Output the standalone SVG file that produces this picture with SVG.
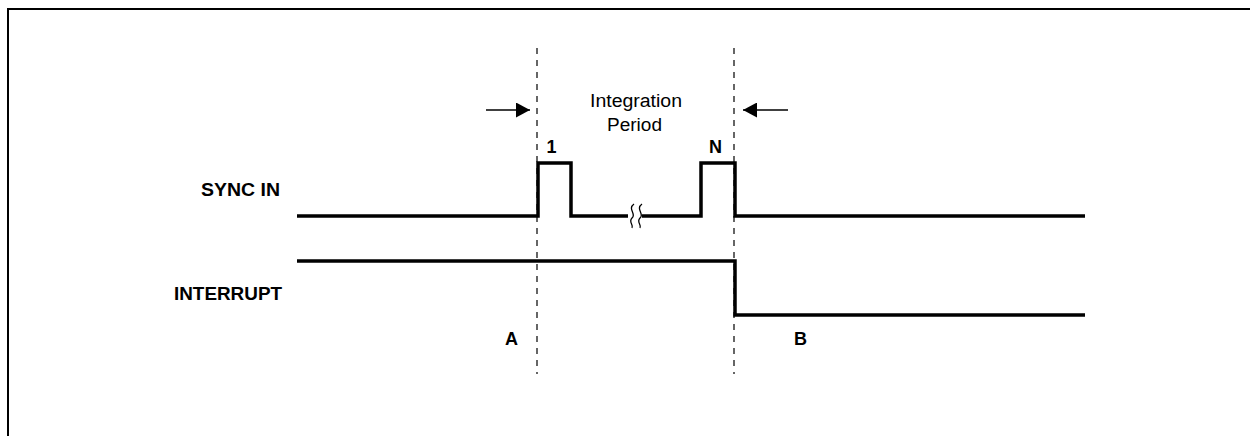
<svg xmlns="http://www.w3.org/2000/svg" width="1250" height="436" viewBox="0 0 1250 436">
<style>
.sig{fill:none;stroke:#000;stroke-width:3.5;stroke-linejoin:miter}
.dash{fill:none;stroke:#000;stroke-width:1.2;stroke-dasharray:6,6}
.lbl{font-family:"Liberation Sans",Arial,sans-serif;font-weight:bold;font-size:18px;fill:#000}
.txt{font-family:"Liberation Sans",Arial,sans-serif;font-size:18px;fill:#000}
.brk{fill:none;stroke:#000;stroke-width:1.3}
.arr{stroke:#000;stroke-width:1.3;fill:none}
</style>
<defs>
<marker id="ah" markerWidth="14" markerHeight="15" refX="14" refY="7.5" orient="auto" markerUnits="userSpaceOnUse">
<path d="M0,0 L14,7.5 L0,15 Z" fill="#000"/>
</marker>
</defs>
<rect width="1250" height="436" fill="#fff"/>
<path d="M8,436 V9 H1250" fill="none" stroke="#000" stroke-width="2"/>
<g id="labels">
<text class="lbl" x="201" y="196" textLength="79" lengthAdjust="spacingAndGlyphs">SYNC IN</text>
<text class="lbl" x="174" y="300" textLength="108" lengthAdjust="spacingAndGlyphs">INTERRUPT</text>
<text class="lbl" x="505" y="345">A</text>
<text class="lbl" x="794" y="345">B</text>
<text class="lbl" x="551.5" y="153" text-anchor="middle">1</text>
<text class="lbl" x="715.5" y="153" text-anchor="middle">N</text>
<text class="txt" x="590" y="107" textLength="92" lengthAdjust="spacingAndGlyphs">Integration</text>
<text class="txt" x="607" y="131" textLength="55" lengthAdjust="spacingAndGlyphs">Period</text>
</g>
<g id="connectors">
<line class="dash" x1="537" y1="48" x2="537" y2="374"/>
<line class="dash" x1="734" y1="48" x2="734" y2="374"/>
<line class="arr" x1="486" y1="110" x2="530" y2="110" marker-end="url(#ah)"/>
<line class="arr" x1="788" y1="110" x2="743" y2="110" marker-end="url(#ah)"/>
</g>
<g id="sync-in">
<path class="sig" d="M297,216 H538 V163 H571 V216 H628"/>
<path class="sig" d="M642,216 H701 V163 H735 V216 H1085"/>
<path class="brk" d="M634,204 C627,209 637,214 632,218 C628,222 634,225 632,228"/>
<path class="brk" d="M642,204 C635,209 645,214 640,218 C636,222 642,225 640,228"/>
</g>
<g id="interrupt">
<path class="sig" d="M297,261 H735 V315 H1085"/>
</g>
</svg>
